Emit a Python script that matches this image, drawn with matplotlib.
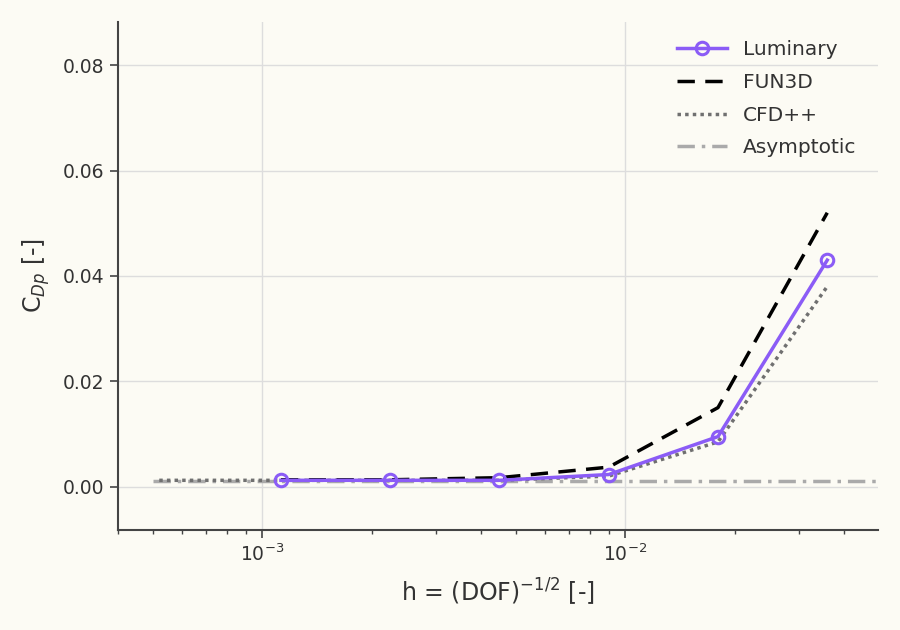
import matplotlib
matplotlib.use("Agg")
import matplotlib.pyplot as plt

h = [1.125e-3, 2.25e-3, 4.5e-3, 9e-3, 0.018, 0.036]
luminary = [0.0012, 0.0012, 0.0012, 0.0023, 0.0095, 0.043]
fun3d = [0.0013, 0.0013, 0.0017, 0.0037, 0.0150, 0.0520]
h_cfd = [5.2e-4, 1.125e-3, 2.25e-3, 4.5e-3, 9e-3, 0.018, 0.036]
cfdpp = [0.0012, 0.0012, 0.0012, 0.0012, 0.0020, 0.0085, 0.0380]
h_asym = [5.0e-4, 0.05]
asym = [0.00115, 0.00115]

bg = "#fcfbf4"
plt.rcParams['font.family'] = ['DejaVu Sans']

fig = plt.figure(figsize=(9, 6.3), dpi=100, facecolor=bg)
ax = fig.add_axes([0.131, 0.159, 0.845, 0.806])
ax.set_facecolor(bg)

ax.plot(h, luminary, color="#8b5cf6", lw=2.5, marker="o", ms=9,
        mfc="none", mew=2.2, label="Luminary", zorder=5)
ax.plot(h, fun3d, color="black", lw=2.5, ls=(0, (5, 3)), label="FUN3D", zorder=4)
ax.plot(h_cfd, cfdpp, color="#707070", lw=2.5, ls=(0, (1, 1.2)), label="CFD++", zorder=3)
ax.plot(h_asym, asym, color="#aaaaaa", lw=2.5, ls=(0, (5, 2, 1, 2)), label="Asymptotic", zorder=2)

ax.set_xscale("log")
ax.set_xlim(4.0e-4, 0.0498)
ax.set_ylim(-0.0082, 0.0882)
ax.set_yticks([0.0, 0.02, 0.04, 0.06, 0.08])
ax.set_yticklabels(["0.00", "0.02", "0.04", "0.06", "0.08"])

ax.grid(True, which="major", color="#dddddd", lw=1)
ax.set_axisbelow(True)
for s in ["top", "right"]:
    ax.spines[s].set_visible(False)
for s in ["left", "bottom"]:
    ax.spines[s].set_color("#444444")
    ax.spines[s].set_linewidth(1.5)
ax.tick_params(which="major", length=6, width=1.2, color="#444444",
               labelsize=13.5, labelcolor="#333333")
ax.tick_params(which="minor", length=3, width=1, color="#444444")

ax.set_xlabel(r"h = (DOF)$^{-1/2}$ [-]", fontsize=17, color="#333333", labelpad=9)
ax.set_ylabel(r"C$_{Dp}$ [-]", fontsize=17, color="#333333", labelpad=8)

leg = ax.legend(loc="upper right", frameon=False, fontsize=14.5, handlelength=2.5,
                labelspacing=0.68, bbox_to_anchor=(0.995, 1.0))
for t in leg.get_texts():
    t.set_color("#333333")

fig.savefig("out.png", dpi=100, facecolor=bg)
